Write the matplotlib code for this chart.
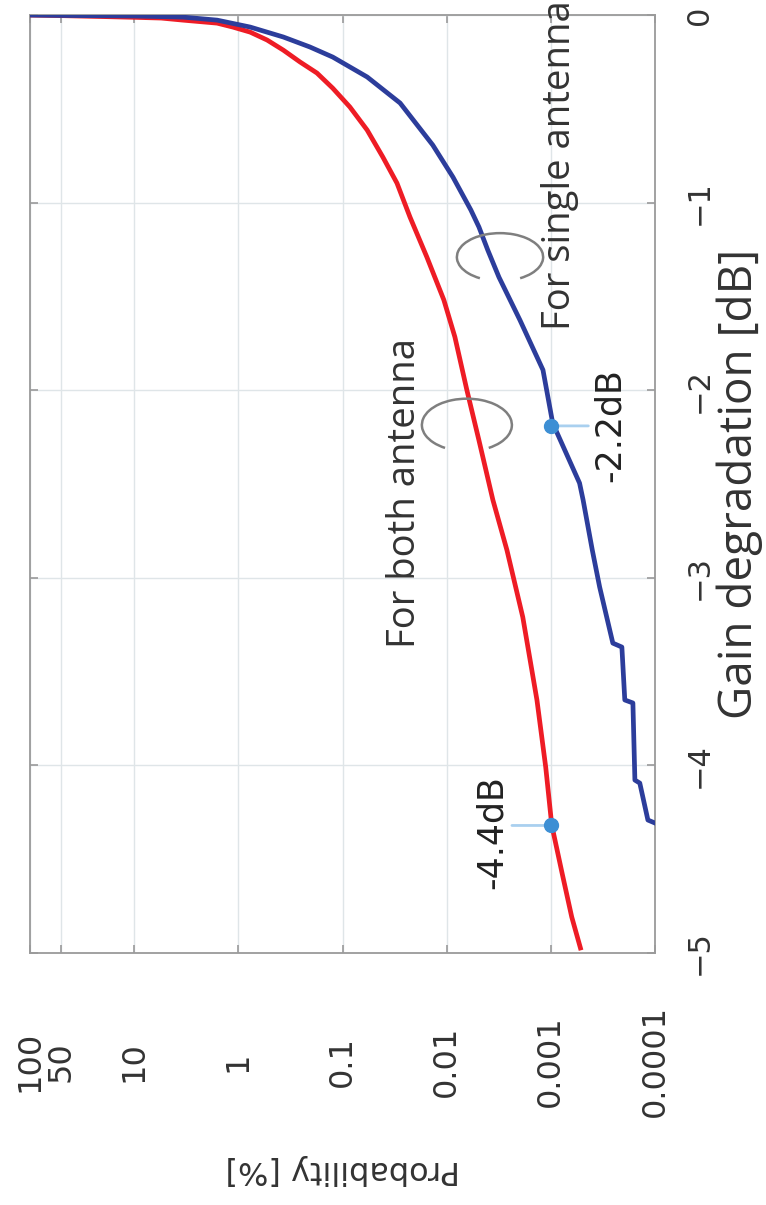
import numpy as np
import matplotlib
matplotlib.use("Agg")
import matplotlib.pyplot as plt
from matplotlib.patches import Arc
from matplotlib.ticker import NullLocator

# curves: gain [dB] vs probability [%]
both_gain = [0, -0.003, -0.008, -0.012, -0.016, -0.027, -0.043, -0.064, -0.091,
             -0.133, -0.187, -0.25, -0.309, -0.39, -0.49, -0.613, -0.757, -0.896,
             -1.077, -1.29, -1.519, -1.716, -1.999, -2.265, -2.585, -2.852,
             -3.209, -3.651, -4.009, -4.318, -4.574, -4.808, -4.973]
both_prob = [100, 50, 20, 10, 5.5, 3.4, 1.6, 1.13, 0.77,
             0.53, 0.37, 0.256, 0.176, 0.124, 0.085, 0.058, 0.041, 0.030,
             0.0225, 0.0155, 0.01064, 0.00834, 0.0064, 0.00491, 0.0036, 0.00264,
             0.00186, 0.00136, 0.00112, 0.00098, 0.00078, 0.00063, 0.00052]

single_gain = [0, -0.002, -0.005, -0.011, -0.027, -0.064, -0.117, -0.17, -0.224,
               -0.33, -0.469, -0.693, -0.864, -1.039, -1.13, -1.253, -1.397,
               -1.626, -1.892, -2.175, -2.495, -2.585, -2.852, -3.049, -3.348,
               -3.369, -3.651, -3.667, -4.078, -4.094, -4.291, -4.307]
single_prob = [100, 50, 10, 3.4, 1.6, 0.77, 0.37, 0.206, 0.124,
               0.058, 0.028, 0.0136, 0.0087, 0.00586, 0.0049, 0.00403, 0.00315,
               0.00198, 0.00119, 0.00096, 0.00053, 0.00049, 0.00040, 0.00034, 0.000254,
               0.000208, 0.000195, 0.000163, 0.000156, 0.000140, 0.000117, 0.0001]

mark_prob = [0.001, 0.001]
mark_gain = [-2.19, -4.32]
mark_text = ["-2.2dB", "-4.4dB"]

prob_ticks = [100, 50, 10, 1, 0.1, 0.01, 0.001, 0.0001]
prob_labels = ["100", "50", "10", "1", "0.1", "0.01", "0.001", "0.0001"]
gain_ticks = [-5, -4, -3, -2, -1, 0]
gain_labels = ["\u22125", "\u22124", "\u22123", "\u22122", "\u22121", "0"]

fig = plt.figure(figsize=(7.66, 12.05), dpi=100)
ax = fig.add_axes([0.0392, 0.2091, 0.8159, 0.7784])

ax.plot(both_prob, both_gain, color="#ee1c25", lw=3.4, zorder=3)
ax.plot(single_prob, single_gain, color="#2c3d9b", lw=3.4, zorder=3)

ax.set_xscale("log")
ax.set_xlim(100, 1e-4)
ax.set_ylim(-5, 0)
ax.xaxis.set_minor_locator(NullLocator())
ax.set_xticks(prob_ticks)
ax.set_xticklabels(prob_labels)
ax.set_yticks(gain_ticks)
ax.set_yticklabels(gain_labels)
ax.yaxis.tick_right()
ax.grid(True, color="#dfe5e8", lw=1.0)
ax.set_axisbelow(True)

for s in ax.spines.values():
    s.set_color("#9a9a9a")
    s.set_linewidth(1.3)
ax.tick_params(direction="in", length=6, width=1.2, color="#9a9a9a",
               top=True, bottom=True, left=True, right=True,
               labelleft=False, labelright=True)
ax.tick_params(axis="x", pad=78, labelsize=23, labelcolor="#333333")
ax.tick_params(axis="y", pad=32, labelsize=22, labelcolor="#333333")
for lbl in ax.get_xticklabels():
    lbl.set_rotation(90)
    lbl.set_va("center")
    lbl.set_ha("center")
for lbl in ax.get_yticklabels():
    lbl.set_rotation(90)
    lbl.set_va("center")
    lbl.set_ha("center")

ax.set_xlabel("Probability [%]", fontsize=23, rotation=180, color="#333333",
              va="center", ha="center")
ax.xaxis.set_label_coords(0.5, -0.231)
ax.yaxis.set_label_position("right")
ax.set_ylabel("Gain degradation [dB]", fontsize=33, family="Open Sans",
              rotation=90, color="#333333", va="center", ha="center")
ax.yaxis.set_label_coords(1.136, 0.5)

# markers and callouts
ax.plot(mark_prob, mark_gain, "o", ms=10, color="#3d8fd4", zorder=5)
offs = [(29, 0), (-30, 0)]
for p, g, o in zip(mark_prob, mark_gain, offs):
    ax.annotate("", xy=(p, g), xytext=o, textcoords="offset points",
                arrowprops=dict(arrowstyle="-", color="#a9d0ef", lw=2))
ax.text(0.928, 0.563, mark_text[0], transform=ax.transAxes, rotation=90,
        ha="center", va="center", fontsize=25, color="#222222")
ax.text(0.739, 0.129, mark_text[1], transform=ax.transAxes, rotation=90,
        ha="center", va="center", fontsize=25, color="#222222")

ax.text(0.6, 0.325, "For both antenna", transform=ax.transAxes, rotation=90,
        ha="center", va="bottom", fontsize=27.5, family="Open Sans", color="#333333")
ax.text(0.848, 0.664, "For single antenna", transform=ax.transAxes, rotation=90,
        ha="center", va="bottom", fontsize=27.5, family="Open Sans", color="#333333")

ax.add_patch(Arc((0.699, 0.563), 0.144, 0.056, theta1=-35, theta2=215,
                 transform=ax.transAxes, color="#7f7f7f", lw=1.8, zorder=4))
ax.add_patch(Arc((0.752, 0.742), 0.138, 0.051, theta1=-35, theta2=215,
                 transform=ax.transAxes, color="#7f7f7f", lw=1.8, zorder=4))

fig.savefig("out.png", dpi=100)
